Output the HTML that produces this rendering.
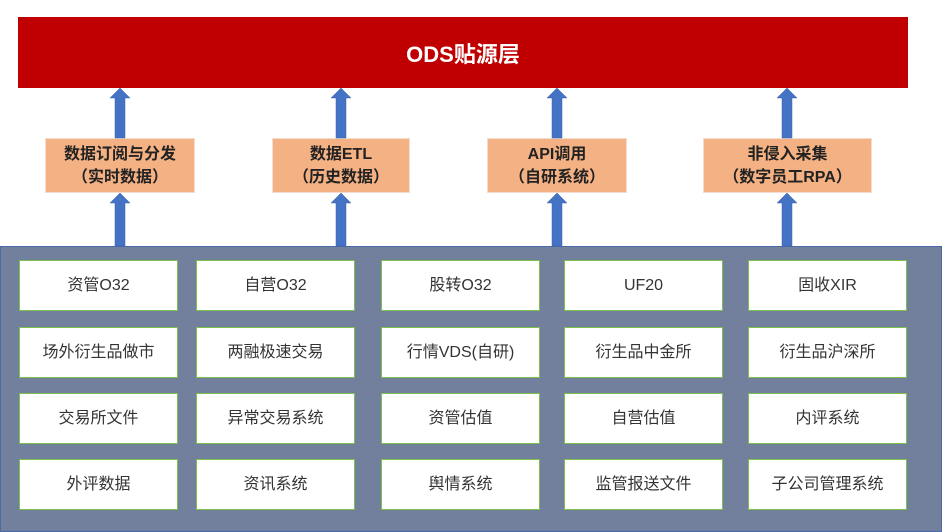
<!DOCTYPE html>
<html><head><meta charset="utf-8"><style>
body{margin:0;width:942px;height:532px;background:#fff;position:relative;overflow:hidden;font-family:"Liberation Sans","Noto Sans CJK SC",sans-serif}
.red{position:absolute;left:18px;top:17px;width:890px;height:71px;background:#c00000;color:#fff;font-weight:bold;font-size:22px;display:flex;align-items:center;justify-content:center}
.or{position:absolute;top:138px;height:55px;background:#f4b183;border:1px solid #f2dccf;box-sizing:border-box;display:flex;align-items:center;justify-content:center;text-align:center;font-weight:bold;font-size:16px;line-height:23px;color:#222}
.panel{position:absolute;left:0;top:246px;width:942px;height:286px;background:#72809e;border:1px solid #4a6aa8;box-sizing:border-box}
.c{position:absolute;width:159px;height:51px;background:#fff;border:1px solid #7cc24a;box-sizing:border-box;display:flex;align-items:center;justify-content:center;font-size:16px;line-height:1;color:#333}
svg{position:absolute;left:0;top:0}
</style></head><body>
<div class="red">ODS贴源层</div>
<div class="or" style="left:45px;width:150px">数据订阅与分发<br>（实时数据）</div>
<div class="or" style="left:272px;width:138px">数据ETL<br>（历史数据）</div>
<div class="or" style="left:487px;width:140px">API调用<br>（自研系统）</div>
<div class="or" style="left:703px;width:169px">非侵入采集<br>（数字员工RPA）</div>
<div class="panel"></div>
<svg width="942" height="532">
<g fill="#4472c4" stroke="#3a62a8" stroke-width="0.5">
<path d="M115,138 V98 H110 L120,88 L130,98 H125 V138Z"/>
<path d="M115,246 V203 H110 L120,193 L130,203 H125 V246Z"/>
<path d="M336,138 V98 H331 L341,88 L351,98 H346 V138Z"/>
<path d="M336,246 V203 H331 L341,193 L351,203 H346 V246Z"/>
<path d="M552,138 V98 H547 L557,88 L567,98 H562 V138Z"/>
<path d="M552,246 V203 H547 L557,193 L567,203 H562 V246Z"/>
<path d="M782,138 V98 H777 L787,88 L797,98 H792 V138Z"/>
<path d="M782,246 V203 H777 L787,193 L797,203 H792 V246Z"/>
</g></svg>
<div class="c" style="left:19px;top:260px">资管O32</div>
<div class="c" style="left:196px;top:260px">自营O32</div>
<div class="c" style="left:381px;top:260px">股转O32</div>
<div class="c" style="left:564px;top:260px">UF20</div>
<div class="c" style="left:748px;top:260px">固收XIR</div>
<div class="c" style="left:19px;top:327px">场外衍生品做市</div>
<div class="c" style="left:196px;top:327px">两融极速交易</div>
<div class="c" style="left:381px;top:327px">行情VDS(自研)</div>
<div class="c" style="left:564px;top:327px">衍生品中金所</div>
<div class="c" style="left:748px;top:327px">衍生品沪深所</div>
<div class="c" style="left:19px;top:393px">交易所文件</div>
<div class="c" style="left:196px;top:393px">异常交易系统</div>
<div class="c" style="left:381px;top:393px">资管估值</div>
<div class="c" style="left:564px;top:393px">自营估值</div>
<div class="c" style="left:748px;top:393px">内评系统</div>
<div class="c" style="left:19px;top:459px">外评数据</div>
<div class="c" style="left:196px;top:459px">资讯系统</div>
<div class="c" style="left:381px;top:459px">舆情系统</div>
<div class="c" style="left:564px;top:459px">监管报送文件</div>
<div class="c" style="left:748px;top:459px">子公司管理系统</div>
</body></html>
